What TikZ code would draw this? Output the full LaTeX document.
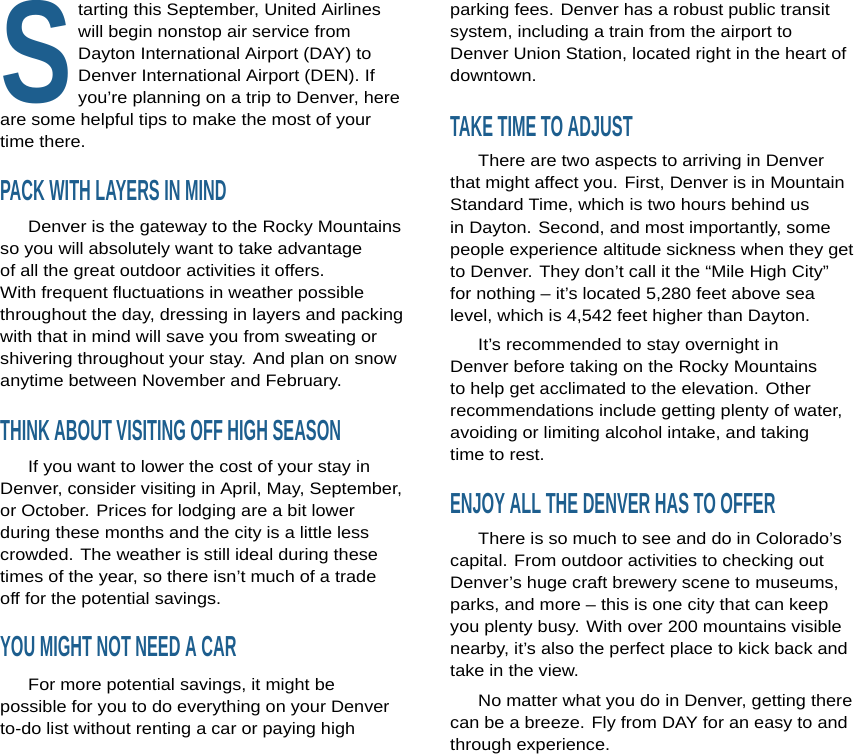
\documentclass[tikz,border=0pt]{standalone}
\usepackage{fontspec}
\setmainfont{Liberation Sans}
\definecolor{headblue}{HTML}{1D5E8E}
\tikzset{
  bodytext/.style={anchor=base west,inner sep=0pt,xscale=1.09,transform shape,
    font=\fontsize{16.6}{20}\selectfont},
  headtext/.style={anchor=base west,inner sep=0pt,text=headblue,xscale=0.56,transform shape,
    font=\fontsize{29}{30}\selectfont\bfseries}
}
% one text line: name, x, centre y, text
\newcommand\bodyline[4]{\node[bodytext] (#1) at (#2,#3+6) {#4};}
\newcommand\headline[4]{\node[headtext] (#1) at (#2,#3+10.5) {#4};}
\begin{document}
\begin{tikzpicture}[x=1pt,y=-1pt]
  \useasboundingbox (0,0) rectangle (864,754);
  %
  % Drop cap
  \node[anchor=base west,inner sep=0pt,text=headblue,xscale=0.76,yscale=1.03,transform shape,
    font=\fontsize{142}{142}\selectfont\bfseries] (dropcap) at (0,103) {S};
  %
  % Intro
  \bodyline{i1}{78}{10}{tarting this September, United Airlines}
  \bodyline{i2}{78}{32}{will begin nonstop air service from}
  \bodyline{i3}{78}{54}{Dayton International Airport (DAY) to}
  \bodyline{i4}{78}{76}{Denver International Airport (DEN). If}
  \bodyline{i5}{78}{98}{you’re planning on a trip to Denver, here}
  \bodyline{i6}{0}{120}{are some helpful tips to make the most of your}
  \bodyline{i7}{0}{142}{time there.}
  %
  % Pack with layers
  \headline{h1}{0}{190}{PACK WITH LAYERS IN MIND}
  \bodyline{a1}{28}{226}{Denver is the gateway to the Rocky Mountains}
  \bodyline{a2}{0}{248}{so you will absolutely want to take advantage}
  \bodyline{a3}{0}{270}{of all the great outdoor activities it offers.}
  \bodyline{a4}{0}{292}{With frequent fluctuations in weather possible}
  \bodyline{a5}{0}{314}{throughout the day, dressing in layers and packing}
  \bodyline{a6}{0}{336}{with that in mind will save you from sweating or}
  \bodyline{a7}{0}{358}{shivering throughout your stay. And plan on snow}
  \bodyline{a8}{0}{380}{anytime between November and February.}
  %
  % Off season
  \headline{h2}{0}{430}{THINK ABOUT VISITING OFF HIGH SEASON}
  \bodyline{b1}{28}{466}{If you want to lower the cost of your stay in}
  \bodyline{b2}{0}{488}{Denver, consider visiting in April, May, September,}
  \bodyline{b3}{0}{510}{or October. Prices for lodging are a bit lower}
  \bodyline{b4}{0}{532}{during these months and the city is a little less}
  \bodyline{b5}{0}{554}{crowded. The weather is still ideal during these}
  \bodyline{b6}{0}{576}{times of the year, so there isn’t much of a trade}
  \bodyline{b7}{0}{598}{off for the potential savings.}
  %
  % Car
  \headline{h3}{0}{646}{YOU MIGHT NOT NEED A CAR}
  \bodyline{c1}{28}{684}{For more potential savings, it might be}
  \bodyline{c2}{0}{706}{possible for you to do everything on your Denver}
  \bodyline{c3}{0}{728}{to-do list without renting a car or paying high}
  \bodyline{c4}{450}{10}{parking fees. Denver has a robust public transit}
  \bodyline{c5}{450}{32}{system, including a train from the airport to}
  \bodyline{c6}{450}{54}{Denver Union Station, located right in the heart of}
  \bodyline{c7}{450}{76}{downtown.}
  %
  % Adjust
  \headline{h4}{450}{126}{TAKE TIME TO ADJUST}
  \bodyline{d1}{478}{161}{There are two aspects to arriving in Denver}
  \bodyline{d2}{450}{183}{that might affect you. First, Denver is in Mountain}
  \bodyline{d3}{450}{205}{Standard Time, which is two hours behind us}
  \bodyline{d4}{450}{227}{in Dayton. Second, and most importantly, some}
  \bodyline{d5}{450}{249}{people experience altitude sickness when they get}
  \bodyline{d6}{450}{271}{to Denver. They don’t call it the “Mile High City”}
  \bodyline{d7}{450}{293}{for nothing – it’s located 5,280 feet above sea}
  \bodyline{d8}{450}{315}{level, which is 4,542 feet higher than Dayton.}
  \bodyline{e1}{478}{344}{It’s recommended to stay overnight in}
  \bodyline{e2}{450}{366}{Denver before taking on the Rocky Mountains}
  \bodyline{e3}{450}{388}{to help get acclimated to the elevation. Other}
  \bodyline{e4}{450}{410}{recommendations include getting plenty of water,}
  \bodyline{e5}{450}{432}{avoiding or limiting alcohol intake, and taking}
  \bodyline{e6}{450}{454}{time to rest.}
  %
  % Enjoy
  \headline{h5}{450}{503}{ENJOY ALL THE DENVER HAS TO OFFER}
  \bodyline{f1}{478}{538}{There is so much to see and do in Colorado’s}
  \bodyline{f2}{450}{560}{capital. From outdoor activities to checking out}
  \bodyline{f3}{450}{582}{Denver’s huge craft brewery scene to museums,}
  \bodyline{f4}{450}{604}{parks, and more – this is one city that can keep}
  \bodyline{f5}{450}{626}{you plenty busy. With over 200 mountains visible}
  \bodyline{f6}{450}{648}{nearby, it’s also the perfect place to kick back and}
  \bodyline{f7}{450}{670}{take in the view.}
  \bodyline{g1}{478}{700}{No matter what you do in Denver, getting there}
  \bodyline{g2}{450}{722}{can be a breeze. Fly from DAY for an easy to and}
  \bodyline{g3}{450}{744}{through experience.}
\end{tikzpicture}
\end{document}
